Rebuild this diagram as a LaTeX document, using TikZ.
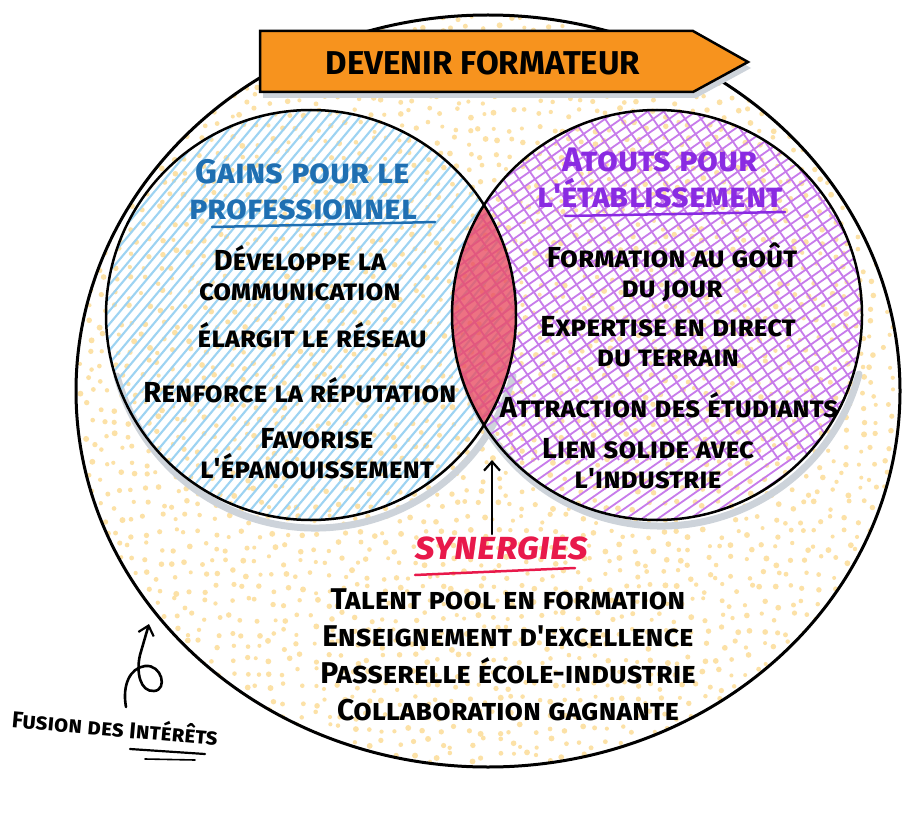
\documentclass[tikz,border=0pt]{standalone}
\usepackage{fontspec}
\usetikzlibrary{arrows.meta}
\newfontfamily\hand{Fira Sans}[Letters=SmallCaps]
\definecolor{bannerc}{HTML}{F7931E}
\definecolor{bluet}{HTML}{1F6FB2}
\definecolor{purplet}{HTML}{8A2BE2}
\definecolor{redt}{HTML}{E8194B}
\definecolor{bluehatch}{HTML}{9DD3F2}
\definecolor{purplehatch}{HTML}{C77BEB}
\definecolor{dotc}{HTML}{FCE1A6}
\definecolor{shadowc}{HTML}{CDD3DA}
\definecolor{lensc}{HTML}{E94F64}
\tikzset{
  item/.style={font=\hand\bfseries\fontsize{29}{30}\selectfont, align=center, text=black, inner sep=0pt},
  ttl/.style={font=\hand\bfseries\fontsize{34}{36}\selectfont, align=center, inner sep=0pt},
  outline/.style={draw=black, line width=2.5pt},
  shadowline/.style={draw=shadowc, line width=7pt, line cap=round},
  arr/.style={draw=black, line width=2.2pt, line cap=round, -{Straight Barb[length=9pt,width=16pt,line width=2.2pt]}},
}
\begin{document}
\begin{tikzpicture}[x=1pt,y=-1pt]
\useasboundingbox (0,0) rectangle (912,818);
% background ellipse with dots
\fill[white] (488,391) ellipse [x radius=412, y radius=376];
\begin{scope}
\clip (488,391) ellipse [x radius=412, y radius=376];
\pgfmathsetseed{7}
\foreach \i in {0,...,58}{
  \foreach \j in {0,...,53}{
    \pgfmathsetmacro\dx{rand*5}
    \pgfmathsetmacro\dy{rand*5}
    \pgfmathsetmacro\rr{2.0+rnd*1.0}
    \fill[dotc] (76+\i*14+\dx, 15+\j*14+\dy) circle (\rr);
  }
}
\end{scope}
\draw[outline, line width=3pt] (488,391) ellipse [x radius=412, y radius=376];
% circle shadows
\draw[shadowline] (315,323) ++(15:205) arc[start angle=15, end angle=165, radius=205];
\draw[shadowline] (661,321) ++(15:205) arc[start angle=15, end angle=165, radius=205];
% left hatch
\begin{scope}
\clip (311,315) circle (205);
\foreach \k in {-700,-689,...,700}
  \draw[bluehatch, line width=2.1pt] (311+\k-260, 625) -- ++(520,-620);
\end{scope}
% right cross hatch
\begin{scope}
\clip (657,315) circle (205);
\foreach \k in {-700,-684,...,700}{
  \draw[purplehatch, line width=1.8pt] (657+\k-300, 525) -- ++(600,-420);
  \draw[purplehatch, line width=1.8pt] (657+\k-150, 30) -- ++(300,430);
}
\end{scope}
% lens
\begin{scope}
\clip (311,315) circle (205);
\fill[lensc, opacity=0.8] (657,315) circle (205);
\end{scope}
\draw[outline] (311,315) circle (205);
\draw[outline] (657,315) circle (205);
% banner
\fill[shadowc] (263,37) -- (696,37) -- (751,68) -- (696,98) -- (263,98) -- cycle;
\draw[outline, fill=bannerc] (260,31) -- (693,31) -- (748,62) -- (693,92) -- (260,92) -- cycle;
\node[font=\hand\bfseries\fontsize{33}{36}\selectfont, inner sep=0pt] (banner) at (483,63) {DEVENIR FORMATEUR};
% titles
\node[ttl, text=bluet] (gtitle) at (303,190) {Gains pour le\\professionnel};
\draw[bluet, line width=2.5pt, line cap=round] (212,227) -- (435,222);
\node[ttl, text=purplet] (atitle) at (660,178) {Atouts pour\\l'établissement};
\draw[purplet, line width=2.5pt, line cap=round] (565,216) -- (785,212);
% left items
\node[item] (l1) at (300,273) {Développe la\\communication};
\node[item] (l2) at (312,335) {élargit le réseau};
\node[item] (l3) at (300,390) {Renforce la réputation};
\node[item] (l4) at (317,454) {Favorise\\l'épanouissement};
% right items
\node[item] (r1) at (672,272) {Formation au goût\\du jour};
\node[item] (r2) at (668,342) {Expertise en direct\\du terrain};
\node[item] (r3) at (669,405) {Attraction des étudiants};
\node[item] (r4) at (648,464) {Lien solide avec\\l'industrie};
% synergies
\coordinate (lensbot) at (492,460);
\node[font=\hand\bfseries\itshape\fontsize{39}{40}\selectfont, text=redt, inner sep=2pt] (syn) at (502,548) {synergies};
\draw[redt, line width=2.5pt, line cap=round] (415,575) -- (575,568);
\draw[arr] (syn.north -| lensbot) -- (lensbot);
\node[item, font=\hand\bfseries\fontsize{30}{37}\selectfont] (s) at (508,655) {Talent pool en formation\\Enseignement d'excellence\\Passerelle école-industrie\\Collaboration gagnante};
% fusion
\node[font=\hand\bfseries\fontsize{23}{26}\selectfont, rotate=-5, inner sep=0pt] (fus) at (115,727) {Fusion des Intérêts};
\draw[black, line width=2.2pt, line cap=round] (130,749) -- (205,754);
\draw[black, line width=1.6pt, line cap=round] (145,759) -- (195,760);
\coordinate (curlend) at (149,624);
\draw[arr, line width=2.6pt] (126,707) .. controls (122,685) and (130,668) .. (145,666)
  .. controls (162,664) and (168,690) .. (154,691)
  .. controls (140,692) and (136,672) .. (140,655)
  -- (curlend);
\end{tikzpicture}
\end{document}
